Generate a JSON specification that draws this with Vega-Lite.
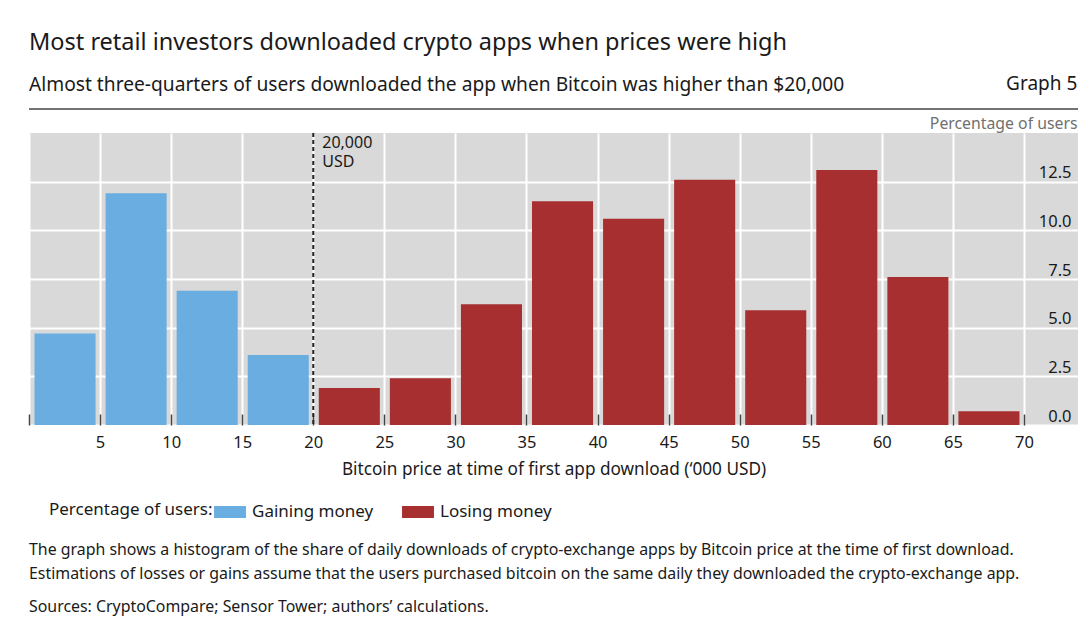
{
  "$schema": "https://vega.github.io/schema/vega-lite/v6.json",
  "background": "white",
  "autosize": {"type": "pad"},
  "padding": {"left": 28, "top": 31, "right": 4, "bottom": 4},
  "config": {"font": "Noto Sans", "view": {"stroke": null}, "concat": {"spacing": 0}},
  "title": {
    "text": "Most retail investors downloaded crypto apps when prices were high",
    "subtitle": "Almost three-quarters of users downloaded the app when Bitcoin was higher than $20,000",
    "anchor": "start",
    "frame": "group",
    "fontSize": 23.5,
    "fontWeight": "normal",
    "color": "#1a1a1a",
    "subtitleFontSize": 19.2,
    "subtitleColor": "#1a1a1a",
    "subtitlePadding": 21,
    "offset": -20
  },
  "resolve": {"legend": {"color": "independent"}},
  "vconcat": [
    {
      "width": 1049,
      "height": 292,
      "view": {"fill": "#d9d9d9", "stroke": null},
      "title": {
        "text": [
          "The graph shows a histogram of the share of daily downloads of crypto-exchange apps by Bitcoin price at the time of first download.",
          "Estimations of losses or gains assume that the users purchased bitcoin on the same daily they downloaded the crypto-exchange app."
        ],
        "subtitle": "Sources: CryptoCompare; Sensor Tower; authors’ calculations.",
        "orient": "bottom",
        "anchor": "start",
        "frame": "group",
        "fontSize": 15.9,
        "fontWeight": "normal",
        "color": "#1a1a1a",
        "lineHeight": 24,
        "subtitleFontSize": 15.9,
        "subtitleColor": "#1a1a1a",
        "subtitlePadding": 17,
        "offset": 22
      },
      "layer": [
        {
          "data": {
            "values": [
              {"start": 0, "end": 5, "pct": 4.7, "outcome": "Gaining money"},
              {"start": 5, "end": 10, "pct": 11.9, "outcome": "Gaining money"},
              {"start": 10, "end": 15, "pct": 6.9, "outcome": "Gaining money"},
              {"start": 15, "end": 20, "pct": 3.6, "outcome": "Gaining money"},
              {"start": 20, "end": 25, "pct": 1.9, "outcome": "Losing money"},
              {"start": 25, "end": 30, "pct": 2.4, "outcome": "Losing money"},
              {"start": 30, "end": 35, "pct": 6.2, "outcome": "Losing money"},
              {"start": 35, "end": 40, "pct": 11.5, "outcome": "Losing money"},
              {"start": 40, "end": 45, "pct": 10.6, "outcome": "Losing money"},
              {"start": 45, "end": 50, "pct": 12.6, "outcome": "Losing money"},
              {"start": 50, "end": 55, "pct": 5.9, "outcome": "Losing money"},
              {"start": 55, "end": 60, "pct": 13.1, "outcome": "Losing money"},
              {"start": 60, "end": 65, "pct": 7.6, "outcome": "Losing money"},
              {"start": 65, "end": 70, "pct": 0.7, "outcome": "Losing money"}
            ]
          },
          "mark": {"type": "bar", "orient": "vertical", "xOffset": 5.5, "x2Offset": -4.5},
          "encoding": {
            "x": {
              "field": "start",
              "type": "quantitative",
              "scale": {"domain": [0, 73.8], "nice": false, "zero": false, "padding": 0},
              "axis": {
                "title": "Bitcoin price at time of first app download (‘000 USD)",
                "values": [0, 5, 10, 15, 20, 25, 30, 35, 40, 45, 50, 55, 60, 65, 70],
                "labelExpr": "datum.value == 0 ? '' : datum.label",
                "grid": true,
                "gridColor": "white",
                "gridWidth": 2,
                "gridOpacity": 1,
                "domain": false,
                "ticks": true,
                "tickSize": -11,
                "tickColor": "#444",
                "tickWidth": 1.5,
                "labelPadding": 20,
                "labelFlush": false,
                "labelFontSize": 16.5,
                "labelColor": "#1a1a1a",
                "titleFontSize": 17.2,
                "titleFontWeight": "normal",
                "titleColor": "#1a1a1a",
                "titlePadding": 10
              }
            },
            "x2": {"field": "end"},
            "y": {
              "field": "pct",
              "type": "quantitative",
              "scale": {"domain": [0, 15], "nice": false, "padding": 0},
              "axis": {
                "orient": "right",
                "values": [0, 2.5, 5, 7.5, 10, 12.5],
                "format": ".1f",
                "grid": true,
                "gridColor": "white",
                "gridWidth": 2,
                "gridOpacity": 1,
                "domain": false,
                "ticks": false,
                "labelAlign": "right",
                "labelPadding": -7,
                "labelBaseline": "alphabetic",
                "labelOffset": -4,
                "labelFontSize": 16.5,
                "labelColor": "#1a1a1a",
                "title": "Percentage of users",
                "titleAngle": 0,
                "titleAlign": "right",
                "titleBaseline": "alphabetic",
                "titleX": -1,
                "titleY": -5,
                "titleFontSize": 15.8,
                "titleFontWeight": "normal",
                "titleColor": "#707070"
              }
            },
            "color": {
              "field": "outcome",
              "type": "nominal",
              "scale": {"domain": ["Gaining money", "Losing money"], "range": ["#6aade0", "#a72f2f"]},
              "legend": {
                "title": "Percentage of users:",
                "orient": "none",
                "legendX": 20,
                "legendY": 367,
                "direction": "horizontal",
                "titleOrient": "left",
                "titleFontSize": 17,
                "titleFontWeight": "normal",
                "titleColor": "#1a1a1a",
                "titlePadding": 5,
                "labelFontSize": 17,
                "labelColor": "#1a1a1a",
                "labelOffset": 10,
                "symbolType": "M-1.33,-0.5L1.33,-0.5L1.33,0.5L-1.33,0.5Z",
                "symbolSize": 576,
                "symbolStrokeWidth": 0,
                "symbolOpacity": 1,
                "columnPadding": 28
              }
            }
          }
        },
        {
          "data": {"values": [{"price": 20}]},
          "mark": {"type": "rule", "strokeDash": [4, 3], "strokeWidth": 2, "color": "#222"},
          "encoding": {"x": {"field": "price", "type": "quantitative"}}
        },
        {
          "data": {"values": [{"price": 20, "level": 15, "label": "20,000"}, {"price": 20, "level": 14, "label": "USD"}]},
          "mark": {"type": "text", "align": "left", "baseline": "top", "dx": 9, "dy": 2, "fontSize": 16, "color": "#1a1a1a"},
          "encoding": {
            "x": {"field": "price", "type": "quantitative"},
            "y": {"field": "level", "type": "quantitative"},
            "text": {"field": "label"}
          }
        },
        {
          "data": {"values": [{}]},
          "mark": {"type": "rule", "color": "#444", "strokeWidth": 1.5, "clip": false},
          "encoding": {"x": {"datum": 0}, "x2": {"datum": 73.8}, "y": {"datum": 16.23}}
        },
        {
          "data": {"values": [{}]},
          "mark": {"type": "text", "text": "Graph 5", "align": "right", "baseline": "alphabetic", "fontSize": 19, "color": "#1a1a1a", "clip": false},
          "encoding": {"x": {"datum": 73.75}, "y": {"datum": 17.21}}
        }
      ]
    }
  ]
}
